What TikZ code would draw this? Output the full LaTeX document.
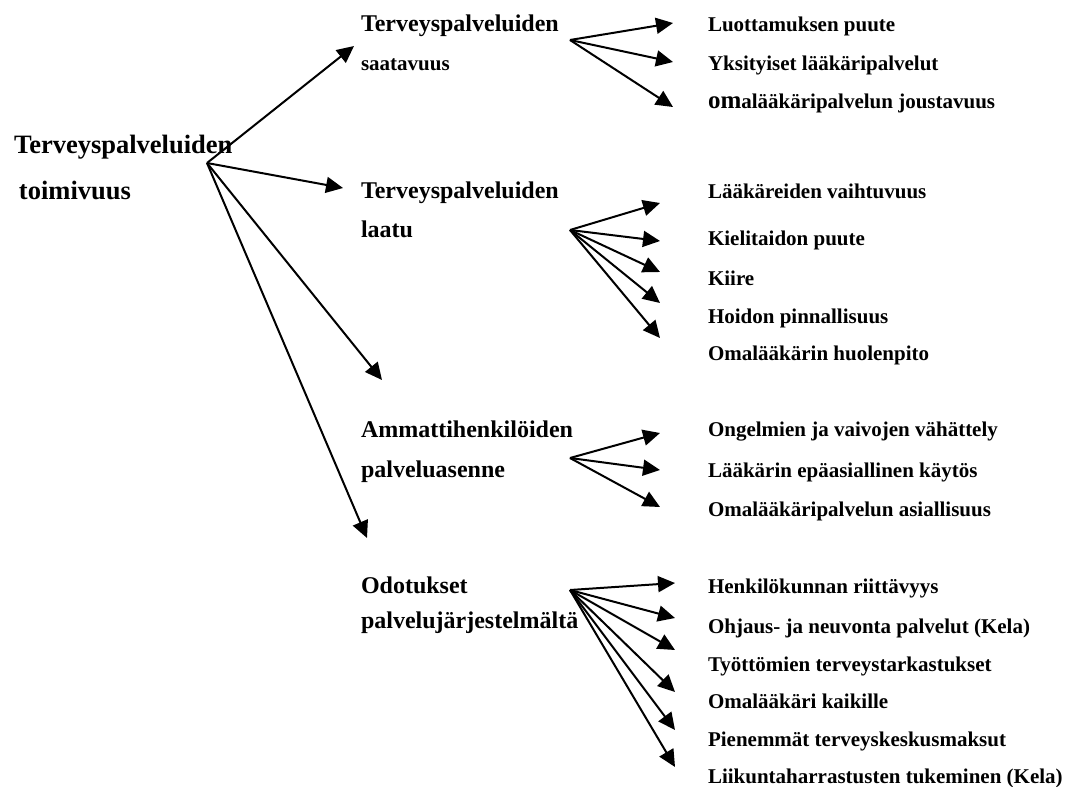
\documentclass[tikz,border=0pt]{standalone}
\usepackage{fontspec}
\setmainfont{Liberation Serif}
\usetikzlibrary{arrows.meta}

\begin{document}
\begin{tikzpicture}[x=1pt, y=-1pt, line width=2pt, ->, >={Triangle[length=17pt,width=16pt]},
    root/.style={anchor=base west, inner sep=0pt, font=\fontsize{26.5}{30}\selectfont\bfseries},
    topic/.style={anchor=base west, inner sep=0pt, font=\fontsize{24}{28}\selectfont\bfseries},
    small/.style={anchor=base west, inner sep=0pt, font=\fontsize{21}{25}\selectfont\bfseries},
    item/.style={anchor=base west, inner sep=0pt, font=\fontsize{21}{25}\selectfont\bfseries}]

    \useasboundingbox (0,0) rectangle (1074,787);

    \node[root] (r1) at (13,153) {Terveyspalveluiden};
    \node[root] (r2) at (18,199) {toimivuus};
    \coordinate (o0) at (207,163);

    \node[topic] (s1) at (360,31) {Terveyspalveluiden};
    \node[small] (s1b) at (360,70) {saatavuus};
    \node[topic] (s2) at (360,198) {Terveyspalveluiden};
    \node[topic] (s2b) at (360,237) {laatu};
    \node[topic] (s3) at (360,437) {Ammattihenkilöiden};
    \node[topic] (s3b) at (360,477) {palveluasenne};
    \node[topic] (s4) at (360,593) {Odotukset};
    \node[topic] (s4b) at (360,628) {palvelujärjestelmältä};

    \coordinate (t1) at (354,46);
    \coordinate (t2) at (343,188);
    \coordinate (t3) at (382,380);
    \coordinate (t4) at (367,538);
    \path (o0) edge (t1) edge (t2) edge (t3) edge (t4);

    \node[item] (a1) at (707,31) {Luottamuksen puute};
    \node[item] (a2) at (707,70) {Yksityiset lääkäripalvelut};
    \node[item] (a3) at (707,108) {{\fontsize{25}{25}\selectfont om}alääkäripalvelun joustavuus};
    \coordinate (oa) at (570,40);
    \coordinate (ta1) at (673,23);
    \coordinate (ta2) at (673,62);
    \coordinate (ta3) at (673,107);
    \path (oa) edge (ta1) edge (ta2) edge (ta3);

    \node[item] (b1) at (707,198) {Lääkäreiden vaihtuvuus};
    \node[item] (b2) at (707,245) {Kielitaidon puute};
    \node[item] (b3) at (707,285) {Kiire};
    \node[item] (b4) at (707,323) {Hoidon pinnallisuus};
    \node[item] (b5) at (707,360) {Omalääkärin huolenpito};
    \coordinate (ob) at (570,230);
    \coordinate (tb1) at (660,203);
    \coordinate (tb2) at (660,241);
    \coordinate (tb3) at (660,272);
    \coordinate (tb4) at (660,303);
    \coordinate (tb5) at (660,338);
    \path (ob) edge (tb1) edge (tb2) edge (tb3) edge (tb4) edge (tb5);

    \node[item] (c1) at (707,436) {Ongelmien ja vaivojen vähättely};
    \node[item] (c2) at (707,477) {Lääkärin epäasiallinen käytös};
    \node[item] (c3) at (707,516) {Omalääkäripalvelun asiallisuus};
    \coordinate (oc) at (570,458);
    \coordinate (tc1) at (660,433);
    \coordinate (tc2) at (660,470);
    \coordinate (tc3) at (660,507);
    \path (oc) edge (tc1) edge (tc2) edge (tc3);

    \node[item] (d1) at (707,593) {Henkilökunnan riittävyys};
    \node[item] (d2) at (707,633) {Ohjaus- ja neuvonta palvelut (Kela)};
    \node[item] (d3) at (707,671) {Työttömien terveystarkastukset};
    \node[item] (d4) at (707,708) {Omalääkäri kaikille};
    \node[item] (d5) at (707,746) {Pienemmät terveyskeskusmaksut};
    \node[item] (d6) at (707,783) {Liikuntaharrastusten tukeminen (Kela)};
    \coordinate (od) at (570,590);
    \coordinate (td1) at (675,583);
    \coordinate (td2) at (675,618);
    \coordinate (td3) at (675,650);
    \coordinate (td4) at (675,692);
    \coordinate (td5) at (675,730);
    \coordinate (td6) at (675,767);
    \path (od) edge (td1) edge (td2) edge (td3) edge (td4) edge (td5) edge (td6);

\end{tikzpicture}
\end{document}
